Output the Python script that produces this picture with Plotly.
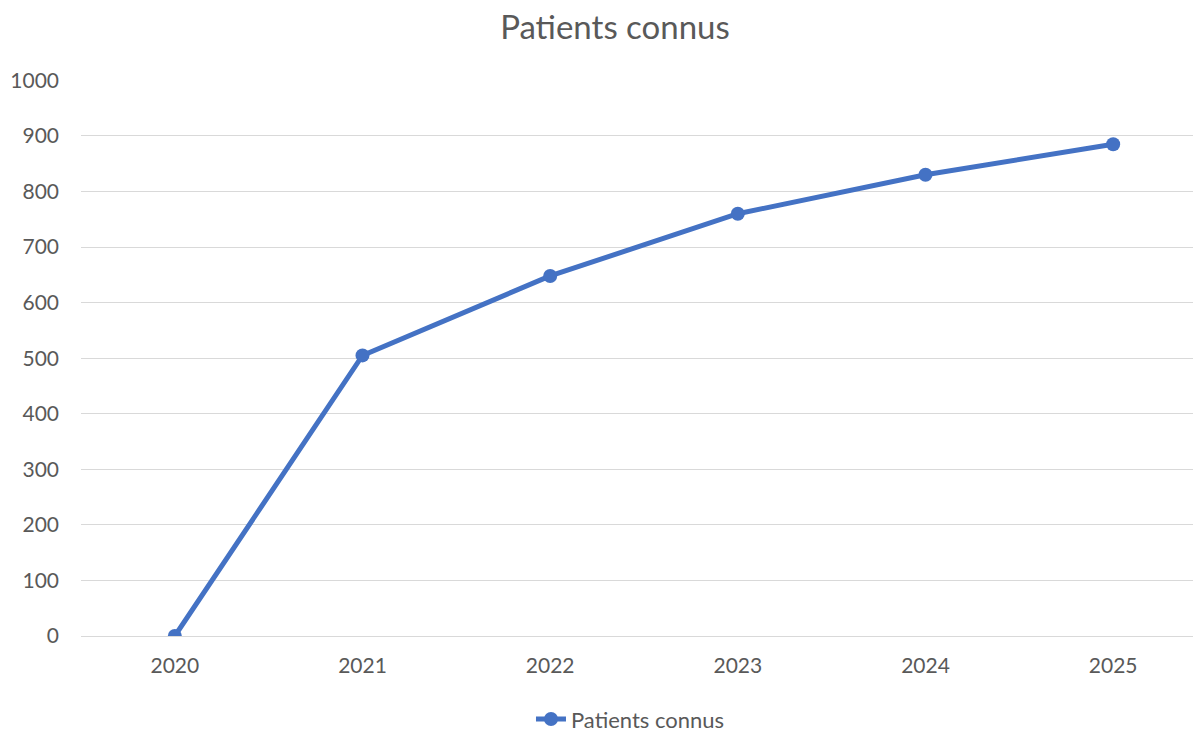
import plotly.graph_objects as go

years = ["2020", "2021", "2022", "2023", "2024", "2025"]
patients = [0, 505, 648, 760, 830, 885]
series_name = "Patients connus"
title = "Patients connus"

fig = go.Figure()
fig.add_trace(go.Scatter(
    x=years, y=patients, mode="lines+markers", name=series_name,
    line=dict(color="#4472C4", width=5),
    marker=dict(color="#4472C4", size=14),
))

# the page body adds an 8px offset, compensated in the margins
fig.update_layout(
    width=1201, height=731,
    paper_bgcolor="white", plot_bgcolor="white",
    margin=dict(l=73, r=2, t=72, b=103, autoexpand=False),
    title=dict(text=title, x=0.5054, xanchor="center", y=0.9735, yanchor="middle",
               font=dict(family="Lato", size=33, color="#595959")),
    font=dict(family="Lato", size=21, color="#595959"),
    showlegend=True,
    legend=dict(orientation="h", x=0.488, xanchor="center", yref="container", y=0.027, yanchor="middle",
                font=dict(size=22, color="#595959")),
    xaxis=dict(type="category", range=[-0.5, 5.5], showgrid=False, showline=False, automargin=False,
               ticks="", tickfont=dict(size=21, color="#595959"), ticklabelstandoff=15),
    yaxis=dict(range=[0, 1000.6], dtick=100, showgrid=True, gridcolor="#D9D9D9", gridwidth=1.3,
               zeroline=True, zerolinecolor="#D9D9D9", zerolinewidth=1.3, showline=False, automargin=False,
               ticks="", tickfont=dict(size=21, color="#595959"), ticklabelstandoff=21),
)

fig.write_html("out.html")
